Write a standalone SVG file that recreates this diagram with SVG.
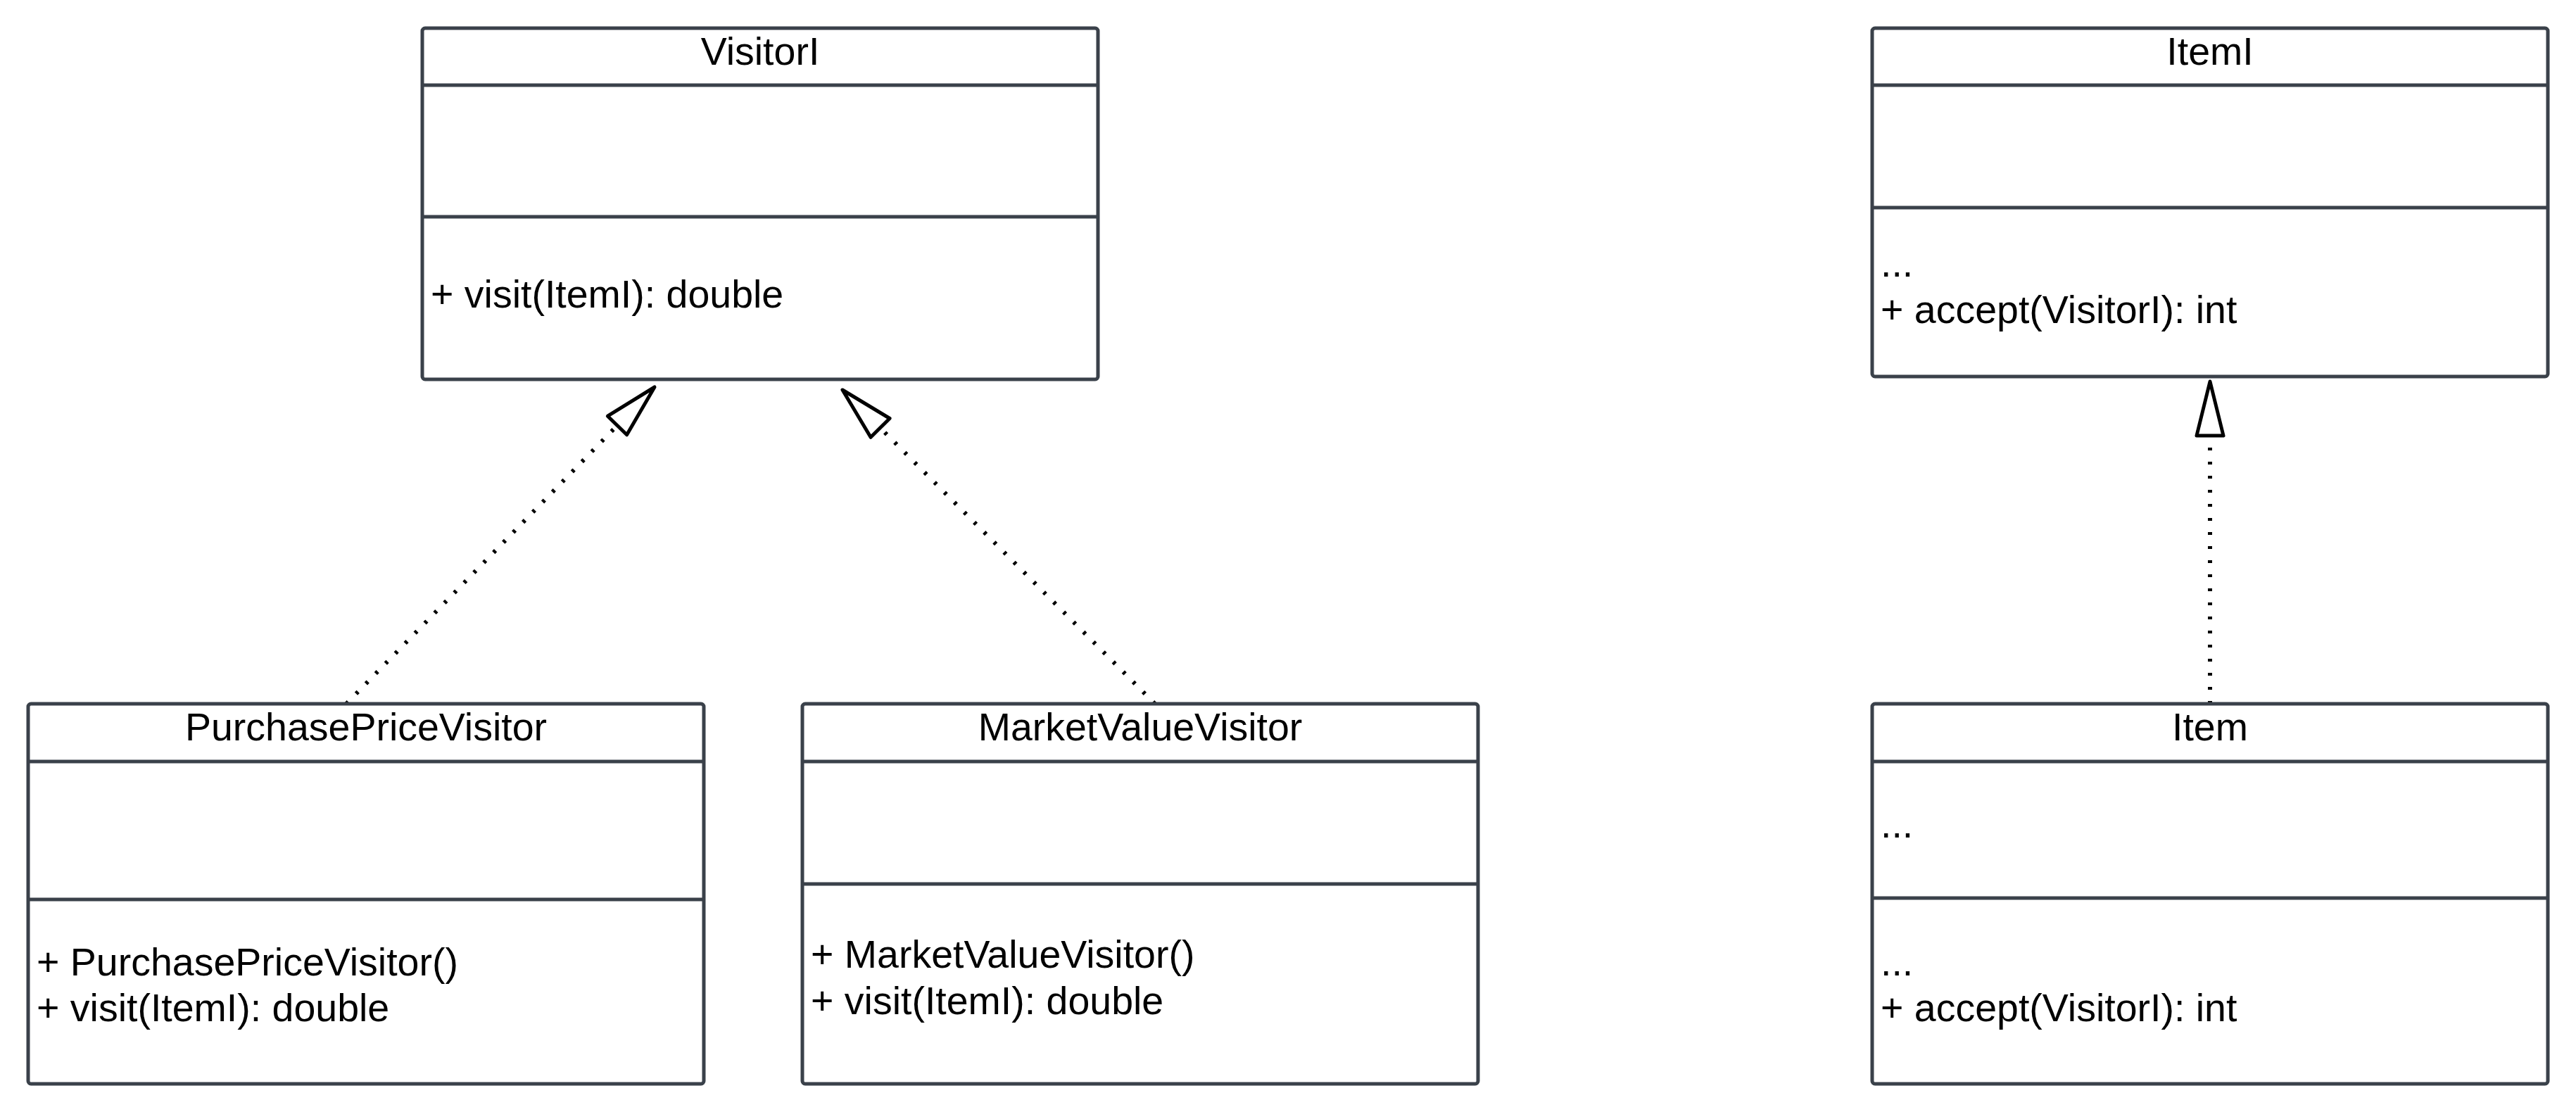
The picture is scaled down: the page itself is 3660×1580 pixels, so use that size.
<svg xmlns="http://www.w3.org/2000/svg" width="3660" height="1580" viewBox="0 0 3660 1580">
<style>
.box{fill:#ffffff;stroke:#3a414a;stroke-width:5}
.div{stroke:#3a414a;stroke-width:5}
.t{font-family:"Liberation Sans",Arial,sans-serif;font-size:55.5px;fill:#000000}
.c{text-anchor:middle}
.dot{fill:none;stroke:#000000;stroke-width:6;stroke-dasharray:4 16}
.head{fill:#ffffff;stroke:#000000;stroke-width:5;stroke-linejoin:round}
</style>
<rect width="3660" height="1580" fill="#ffffff"/>
<g id="connectors">
<line class="dot" x1="492" y1="1000" x2="877" y2="604.5"/>
<polygon class="head" points="930,550 890.6,617.8 863.4,591.2"/>
<line class="dot" x1="1641" y1="1000" x2="1250.6" y2="607.9"/>
<polygon class="head" points="1197,554 1264.1,594.5 1237.1,621.3"/>
<line class="dot" x1="3140" y1="1000" x2="3140" y2="619"/>
<polygon class="head" points="3140,542 3159,619 3121,619"/>
</g>
<g id="VisitorI">
<rect class="box" x="600" y="40" width="960" height="499" rx="4"/>
<line class="div" x1="600" y1="121" x2="1560" y2="121"/>
<line class="div" x1="600" y1="308" x2="1560" y2="308"/>
<text class="t c" x="1080" y="92">VisitorI</text>
<text class="t" x="612" y="437">+ visit(ItemI): double</text>
</g>
<g id="ItemI">
<rect class="box" x="2660" y="40" width="960" height="495" rx="4"/>
<line class="div" x1="2660" y1="121" x2="3620" y2="121"/>
<line class="div" x1="2660" y1="295" x2="3620" y2="295"/>
<text class="t c" x="3140" y="92">ItemI</text>
<text class="t" x="2672" y="393">...</text>
<text class="t" x="2672" y="459">+ accept(VisitorI): int</text>
</g>
<g id="PurchasePriceVisitor">
<rect class="box" x="40" y="1000" width="960" height="540" rx="4"/>
<line class="div" x1="40" y1="1082" x2="1000" y2="1082"/>
<line class="div" x1="40" y1="1278" x2="1000" y2="1278"/>
<text class="t c" x="520" y="1052">PurchasePriceVisitor</text>
<text class="t" x="52" y="1386">+ PurchasePriceVisitor()</text>
<text class="t" x="52" y="1451">+ visit(ItemI): double</text>
</g>
<g id="MarketValueVisitor">
<rect class="box" x="1140" y="1000" width="960" height="540" rx="4"/>
<line class="div" x1="1140" y1="1082" x2="2100" y2="1082"/>
<line class="div" x1="1140" y1="1256" x2="2100" y2="1256"/>
<text class="t c" x="1620" y="1052">MarketValueVisitor</text>
<text class="t" x="1152" y="1375">+ MarketValueVisitor()</text>
<text class="t" x="1152" y="1441">+ visit(ItemI): double</text>
</g>
<g id="Item">
<rect class="box" x="2660" y="1000" width="960" height="540" rx="4"/>
<line class="div" x1="2660" y1="1082" x2="3620" y2="1082"/>
<line class="div" x1="2660" y1="1276" x2="3620" y2="1276"/>
<text class="t c" x="3140" y="1052">Item</text>
<text class="t" x="2672" y="1190">...</text>
<text class="t" x="2672" y="1386">...</text>
<text class="t" x="2672" y="1451">+ accept(VisitorI): int</text>
</g>
</svg>
